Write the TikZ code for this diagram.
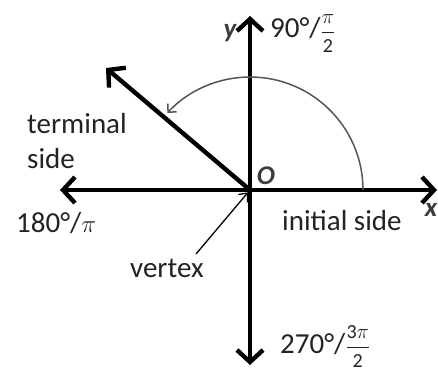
\documentclass[tikz,border=0pt]{standalone}
\usepackage{amsmath}
\usepackage{fontspec}
\setmainfont{Carlito}
\usetikzlibrary{arrows.meta}
\definecolor{txt}{RGB}{35,35,35}
\definecolor{arcg}{RGB}{85,85,85}
\definecolor{axg}{RGB}{60,60,60}
\newcommand{\bigfrac}[2]{{\fontsize{20}{23}\selectfont$\dfrac{#1}{#2}$}}
\begin{document}
\begin{tikzpicture}[x=1pt,y=1pt,
  thick axis/.style={line width=4.4pt, black,
    arrows={Straight Barb[length=12pt,width=26pt]-Straight Barb[length=12pt,width=26pt]}},
  ray/.style={line width=4.4pt, black, arrows={-Straight Barb[length=12pt,width=26pt]}},
  turn/.style={line width=1.5pt, arcg, arrows={-Straight Barb[length=6pt,width=12pt]}},
  pointer/.style={line width=1.3pt, black, arrows={-Straight Barb[length=7pt,width=12pt]}},
  lbl/.style={text=txt, font=\fontsize{29}{35}\selectfont, inner sep=0pt},
  axlbl/.style={text=axg, font=\fontsize{27}{30}\selectfont\itshape\bfseries, inner sep=0pt}]
\useasboundingbox (0,0) rectangle (438,373);
\coordinate (O) at (250,183);
\coordinate (xl) at (60,183);
\coordinate (xr) at (437,183);
\coordinate (yt) at (250,357);
\coordinate (yb) at (250,8);
\coordinate (T) at (106,305);
\coordinate (a0) at (363,183);
\coordinate (vt) at (196,119);
% axes
\draw[thick axis] (xl) -- (xr);
\draw[thick axis] (yb) -- (yt);
% terminal side
\draw[ray] (O) -- (T);
% angle arc
\draw[turn] (a0) arc[start angle=0,end angle=137,radius=113pt];
% vertex pointer
\draw[pointer, shorten >=3pt] (vt) -- (O);
% labels
\node[axlbl] (ylab) at (230,340) {y};
\node[axlbl] (xlab) at (431,163) {x};
\node[axlbl] (olab) at (266,197) {O};
\node[lbl, anchor=base west] (n90) at (270,335) {90°/\bigfrac{\pi}{\text{2}}};
\node[lbl, anchor=base west] (n270) at (280,20) {270°/\bigfrac{\text{3}\pi}{\text{2}}};
\node[lbl, anchor=base west] (n180) at (16,141) {180°/$\pi$};
\node[lbl, anchor=base west] (init) at (282,143) {initial side};
\node[lbl, anchor=base west] (term) at (27,240) {terminal};
\node[lbl, anchor=base west] (side) at (27,205) {side};
\node[lbl, anchor=base west] (vtx) at (130,96) {vertex};
\end{tikzpicture}
\end{document}
